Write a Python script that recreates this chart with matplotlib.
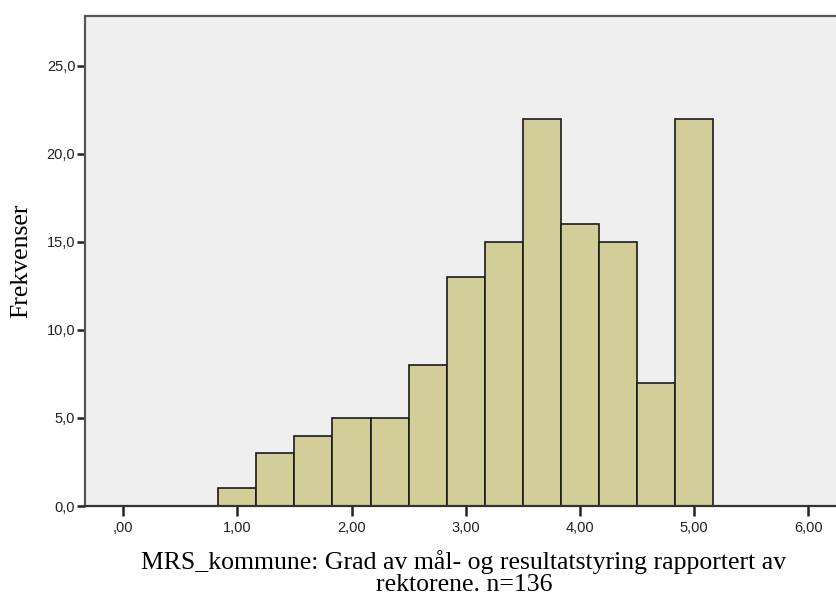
import numpy as np
from matplotlib import pyplot as plt

# histogram bins (bin width 1/3, first bin starts at 0.8333)
bin_left = 5/6
bin_width = 1/3
freq = [1, 3, 4, 5, 5, 8, 13, 15, 22, 16, 15, 7, 22]
xticks = [0, 1, 2, 3, 4, 5, 6]
xticklabels = [',00', '1,00', '2,00', '3,00', '4,00', '5,00', '6,00']
yticks = [0, 5, 10, 15, 20, 25]
yticklabels = ['0,0', '5,0', '10,0', '15,0', '20,0', '25,0']

edges = bin_left + bin_width*np.arange(len(freq)+1)

fig = plt.figure(figsize=(8.37, 5.96), dpi=100)
ax = fig.add_axes([85/837, 1-506/596, 1-85/837, 490/596])
ax.set_facecolor('#efefef')
ax.bar(edges[:-1], freq, width=bin_width, align='edge',
       color='#d3ce97', edgecolor='#1a1a1a', linewidth=1.2, zorder=2)

ax.set_xlim(-1/3, 6.25)
ax.set_ylim(0, 27.84)
ax.set_xticks(xticks)
ax.set_xticklabels(xticklabels, family='Liberation Sans', fontsize=10.5, color='#222222')
ax.set_yticks(yticks)
ax.set_yticklabels(yticklabels, family='Liberation Sans', fontsize=10.5, color='#222222')
ax.tick_params(axis='y', length=6, width=1.8, color='#222222', pad=1)
ax.tick_params(axis='x', length=7, width=1.8, color='#222222', pad=4)

for side in ['left', 'top', 'bottom']:
    ax.spines[side].set_color('#555555')
    ax.spines[side].set_linewidth(1.6)
ax.spines['right'].set_visible(False)
ax.spines['bottom'].set_color('#333333')

fig.text(21/837, 1-261/596, 'Frekvenser', family='Liberation Serif', fontsize=18.5,
         rotation=90, ha='center', va='center')
fig.text(464/837, 1-550/596,
         'MRS_kommune: Grad av mål- og resultatstyring rapportert av\nrektorene. n=136',
         family='Liberation Serif', fontsize=18.5, linespacing=1.0,
         ha='center', va='top', multialignment='center')

fig.savefig('out.png', dpi=100)
